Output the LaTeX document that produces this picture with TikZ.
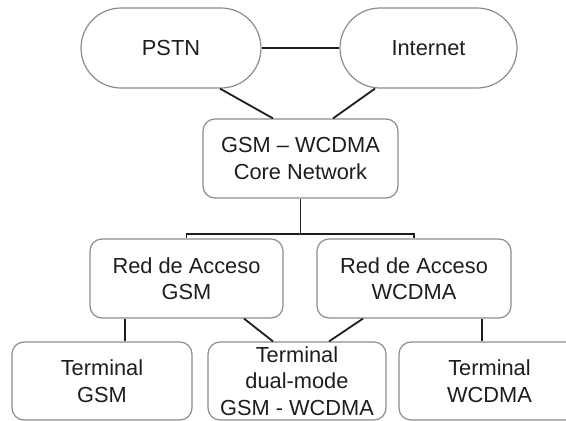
\documentclass[tikz,border=0pt]{standalone}
\usepackage{fontspec}
\setmainfont{Liberation Sans}
\usetikzlibrary{calc}
\definecolor{boxgray}{HTML}{8C8C8C}
\definecolor{ink}{HTML}{1E1E1E}
\tikzset{
  netbox/.style={draw=boxgray, line width=1.2pt, rounded corners=12pt, align=center,
    text=ink, inner sep=0pt, font=\fontsize{21.8}{26.5}\selectfont},
  cloud/.style={netbox, rounded corners=40pt, minimum height=80pt},
  link/.style={draw=ink, line width=1.8pt}
}
\begin{document}
\begin{tikzpicture}[x=1pt, y=-1pt]
\useasboundingbox (0,0) rectangle (566,421);
\clip (0,0) rectangle (566,421);
\fill[white] (0,0) rectangle (566,421);
% nodes
\node[cloud, minimum width=180pt] (pstn) at (171,48) {PSTN};
\node[cloud, minimum width=177pt] (inet) at (428.5,48) {Internet};
\node[netbox, minimum width=195pt, minimum height=79pt] (core) at (300.5,158.5) {GSM -- WCDMA\\Core Network};
\node[netbox, minimum width=193pt, minimum height=79pt] (agsm) at (186.5,278.5) {Red de Acceso\\GSM};
\node[netbox, minimum width=194pt, minimum height=79pt] (awc) at (414,278.5) {Red de Acceso\\WCDMA};
\node[netbox, minimum width=180pt, minimum height=78pt] (tgsm) at (102,381) {Terminal\\GSM};
\node[netbox, minimum width=178pt, minimum height=78pt] (tdual) at (297,381) {Terminal\\dual-mode\\GSM - WCDMA};
\node[netbox, minimum width=181pt, minimum height=78pt] (twc) at (489.5,381) {Terminal\\WCDMA};
\coordinate (j) at (300.5,234);
% connectors
\draw[link] (pstn.east) -- (inet.west);
\draw[link] ([xshift=49pt]pstn.south) -- ([xshift=-27.5pt]core.north);
\draw[link] ([xshift=-53.5pt]inet.south) -- ([xshift=32.5pt]core.north);
\draw[link] (core.south) -- (j);
\draw[link] (agsm.north) |- (j) -| (awc.north);
\draw[link] ([xshift=-61.5pt]agsm.south) -- ([xshift=23pt]tgsm.north);
\draw[link] ([xshift=57.5pt]agsm.south) -- ([xshift=-24pt]tdual.north);
\draw[link] ([xshift=-51pt]awc.south) -- ([xshift=32pt]tdual.north);
\draw[link] ([xshift=68pt]awc.south) -- ([xshift=-7.5pt]twc.north);
\end{tikzpicture}
\end{document}
